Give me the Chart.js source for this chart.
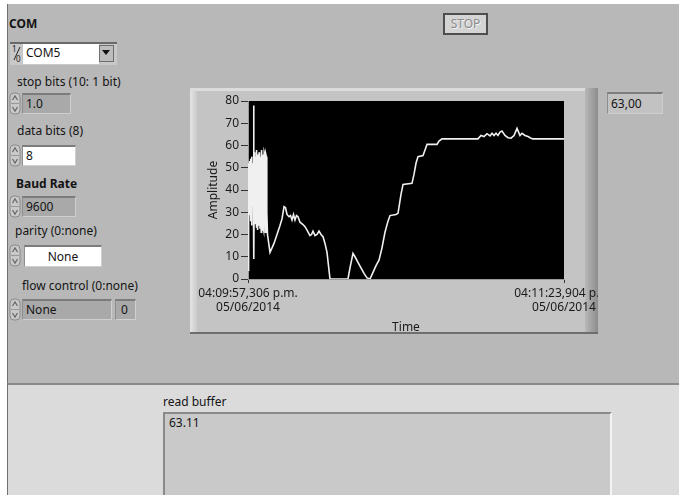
<!DOCTYPE html>
<html><head><meta charset="utf-8">
<script src="https://cdn.jsdelivr.net/npm/chart.js@4"></script>
<style>
html,body{margin:0;padding:0;width:679px;height:495px;overflow:hidden;background:#fff;font-family:"Noto Sans",sans-serif;font-size:12px;color:#141414;}
#panel{position:absolute;left:7px;top:4px;width:672px;height:379px;background:#b8b8b8;border-left:1px solid #707070;}
#lower{position:absolute;left:7px;top:383px;width:672px;height:112px;background:#dbdbdb;border-left:1px solid #707070;border-top:2px solid #8a8a8a;box-sizing:border-box;}
.lbl{position:absolute;white-space:nowrap;line-height:14px;}
.b{font-weight:bold;}
.field{position:absolute;box-sizing:border-box;border-top:2px solid #7c7c7c;border-left:1px solid #8e8e8e;border-right:1px solid #cfcfcf;border-bottom:1px solid #cfcfcf;padding-left:3px;white-space:nowrap;}
.gray{background:#a9a9a9;}
.white{background:#fff;}
.spin{position:absolute;}
#frame{position:absolute;left:190px;top:88px;width:408px;height:246px;overflow:hidden;background:#c4c4c4;}
#frame .s{position:absolute;}
#c{position:absolute;left:-2px;top:3px;}
</style></head>
<body>
<div id="panel"></div>
<div id="lower"></div>

<div class="lbl b" style="left:9px;top:17px;">COM</div>
<!-- ring control -->
<div style="position:absolute;left:10px;top:42px;width:107px;height:23px;background:#c8c8c8;border-top:2px solid #6a6a6a;box-sizing:border-box;"></div>
<svg style="position:absolute;left:11px;top:44px" width="12" height="19"><text x="1" y="8" font-size="8" font-family="Noto Sans" fill="#222">1</text><line x1="9" y1="3" x2="3" y2="16" stroke="#222" stroke-width="1"/><text x="5" y="18" font-size="8" font-family="Noto Sans" fill="#222">0</text></svg>
<div class="field white" style="left:23px;top:44px;width:76px;height:20px;line-height:18px;border:none;">COM5</div>
<div style="position:absolute;left:99px;top:45px;width:15px;height:17px;background:#bdbdbd;border:1px solid #6e6e6e;box-sizing:border-box;"></div>
<svg style="position:absolute;left:102px;top:50px" width="9" height="6"><path d="M0 0 L8 0 L4 5Z" fill="#111"/></svg>

<div class="lbl" style="left:17px;top:75px;">stop bits (10: 1 bit)</div>
<div class="field gray" style="left:22px;top:93px;width:49px;height:21px;line-height:18px;">1.0</div>

<div class="lbl" style="left:17px;top:124px;">data bits (8)</div>
<div class="field white" style="left:22px;top:145px;width:54px;height:21px;line-height:18px;">8</div>

<div class="lbl b" style="left:16px;top:177px;">Baud Rate</div>
<div class="field gray" style="left:22px;top:196px;width:54px;height:21px;line-height:18px;">9600</div>

<div class="lbl" style="left:15px;top:224px;">parity (0:none)</div>
<div class="field white" style="left:24px;top:245px;width:78px;height:22px;line-height:19px;text-align:center;padding-left:0;">None</div>

<div class="lbl" style="left:22px;top:279px;">flow control (0:none)</div>
<div class="field gray" style="left:22px;top:299px;width:90px;height:21px;line-height:18px;">None</div>
<div class="field gray" style="left:115px;top:299px;width:21px;height:21px;line-height:18px;padding-left:5px;">0</div>

<svg class="spin" style="left:9px;top:92px" width="13" height="23"><use href="#sp"/></svg>
<svg class="spin" style="left:9px;top:144px" width="13" height="23"><use href="#sp"/></svg>
<svg class="spin" style="left:9px;top:195px" width="13" height="23"><use href="#sp"/></svg>
<svg class="spin" style="left:9px;top:244px" width="13" height="23"><use href="#sp"/></svg>
<svg class="spin" style="left:9px;top:298px" width="13" height="23"><use href="#sp"/></svg>
<svg width="0" height="0" style="position:absolute"><defs><g id="sp"><rect x="1" y="1" width="10" height="21" rx="4" fill="#c9c9c9" stroke="#8a8a8a"/><path d="M3.5 8 L6 4 L8.5 8" fill="none" stroke="#666" stroke-width="1.2"/><path d="M3.5 15 L6 19 L8.5 15" fill="none" stroke="#666" stroke-width="1.2"/><line x1="2" y1="11.5" x2="10" y2="11.5" stroke="#999"/></g></defs></svg>

<!-- STOP button -->
<div style="position:absolute;left:443px;top:13px;width:45px;height:22px;box-sizing:border-box;border:2px solid #4e4e4e;background:#d4d4d4;text-align:center;line-height:18px;font-size:12px;color:#8c8c8c;text-shadow:1px 1px 0 #f2f2f2;">STOP</div>

<!-- graph -->
<div id="frame">
  <div class="s" style="left:0;top:0;width:7px;height:246px;background:linear-gradient(to right,#e4e4e4,#cbcbcb);"></div>
  <div class="s" style="left:0;top:0;width:408px;height:3px;background:#dcdcdc;"></div>
  <div class="s" style="right:0;top:0;width:13px;height:246px;background:linear-gradient(to right,#b8b8b8,#8c8c8c);"></div>
  <div class="s" style="left:0;bottom:0;width:408px;height:2px;background:#6e6e6e;"></div>
  <canvas id="c" width="436" height="244"></canvas>
</div>

<!-- numeric indicator -->
<div class="field" style="left:607px;top:92px;width:56px;height:22px;line-height:19px;background:#c2c2c2;">63,00</div>

<div class="lbl" style="left:163px;top:395px;">read buffer</div>
<div style="position:absolute;left:163px;top:412px;width:449px;height:90px;box-sizing:border-box;background:#c9c9c9;border-top:2px solid #8a8a8a;border-left:2px solid #8a8a8a;border-right:2px solid #f4f4f4;padding:2px 0 0 4px;line-height:14px;">63.11</div>

<script>
// elapsed seconds from 04:09:57,306 p.m.
const timeSec = [
 0.00,0.08,0.16,0.25,0.33,0.41,0.49,0.58,0.66,0.74,0.82,0.90,0.99,1.07,1.15,1.23,1.32,1.40,1.53,1.64,
 1.73,1.81,1.89,1.97,2.06,2.14,2.22,2.30,2.38,2.47,2.55,2.63,2.71,2.80,2.88,2.96,3.04,3.12,3.21,3.29,
 3.37,3.45,3.53,3.62,3.73,3.84,3.97,4.11,4.28,4.44,4.60,4.74,4.88,5.02,5.15,5.34,6.03,6.58,7.12,7.95,
 8.77,9.32,9.87,10.28,10.69,11.24,11.65,12.06,12.47,12.88,13.29,13.70,14.25,15.07,15.62,16.17,16.99,17.40,17.81,18.36,
 18.91,19.46,20.01,20.56,21.10,21.65,22.06,22.47,27.40,27.95,28.77,29.32,30.14,30.96,31.79,32.61,33.43,34.26,35.08,35.90,
 36.72,37.54,38.37,38.91,40.56,41.11,41.93,42.48,44.94,45.49,46.04,46.59,47.96,48.51,49.06,51.80,52.34,53.16,63.03,63.85,
 64.68,65.50,66.32,66.87,67.42,67.97,68.51,69.06,69.61,70.43,71.25,72.07,72.90,73.72,74.54,75.09,75.91,76.73,77.55,78.10,
 86.60
];
const amplitude = [
 4,52,27,50,29,53,35,49,26,54,37,51,24,55,33,49,38,52,78,9,
 50,28,57,25,55,31,52,23,58,27,54,22,56,29,53,24,57,30,51,23,
 55,26,52,21,58,22,56,24,22,57,56,21,56,55,30,20,12,14,16,20,
 24,27,32.5,32,29,28,28.5,26.5,29,26.5,28.5,28,25.5,24.5,23.5,22,19.5,20,21.5,19.5,
 20,21.5,20,19,16,12,6,0,0,5,11.5,10,7.5,5,2.5,0.5,0,3,6,8.5,
 14,21,26,28.5,29,29.5,38,42.5,43,47,52,55,55.5,58,60.5,60.5,62,63,63,64.5,
 64,65.3,64.3,65.5,64.5,65.5,64.5,66,66.5,64.5,63.5,63.3,64.5,67.7,64.5,65.5,64.5,64,63.3,63,
 63
];
const xRange = [0, 86.598];
const xTickLabels = [["04:09:57,306 p.m.","05/06/2014"],["04:11:23,904 p.m.","05/06/2014"]];
const yTicks = [0,10,20,30,40,50,60,70,80];

const points = timeSec.map((t,i)=>({x:t,y:amplitude[i]}));
const font = {family:"Noto Sans", size:12};
const blackPlot = {
  id:'blackPlot',
  beforeDraw(chart){
    const a = chart.chartArea, ctx = chart.ctx;
    ctx.save(); ctx.fillStyle='#000'; ctx.fillRect(a.left,a.top,a.right-a.left,a.bottom-a.top); ctx.restore();
  }
};
new Chart(document.getElementById('c'), {
  type:'line',
  data:{datasets:[{data:points,borderColor:'#f0f0f0',borderWidth:1.6,pointRadius:0,tension:0,fill:false}]},
  options:{
    responsive:false, animation:false,
    layout:{padding:{top:10,right:60,bottom:0,left:0}},
    plugins:{legend:{display:false},tooltip:{enabled:false}},
    scales:{
      x:{type:'linear',min:xRange[0],max:xRange[1],
        afterBuildTicks:s=>{s.ticks=xRange.map(v=>({value:v}));},
        afterFit:s=>{s.height=56;},
        grid:{drawOnChartArea:false,drawTicks:true,tickLength:4,color:'#333',tickColor:'#333'},
        border:{display:true,color:'#9a9a9a'},
        ticks:{callback:(v,i)=>xTickLabels[i],maxRotation:0,autoSkip:false,padding:3,color:'#1a1a1a',font:font},
        title:{display:true,text:'Time',color:'#1a1a1a',font:font,padding:{top:0,bottom:0}}
      },
      y:{min:0,max:80,
        afterBuildTicks:s=>{s.ticks=yTicks.map(v=>({value:v}));},
        afterFit:s=>{s.width=60;},
        grid:{drawOnChartArea:false,drawTicks:true,tickLength:7,color:'#333',tickColor:'#333'},
        border:{display:true,color:'#9a9a9a'},
        ticks:{padding:2,color:'#1a1a1a',font:font},
        title:{display:true,text:'Amplitude',color:'#1a1a1a',font:font,padding:{top:18,bottom:0}}
      }
    }
  },
  plugins:[blackPlot]
});
</script>
</body></html>
